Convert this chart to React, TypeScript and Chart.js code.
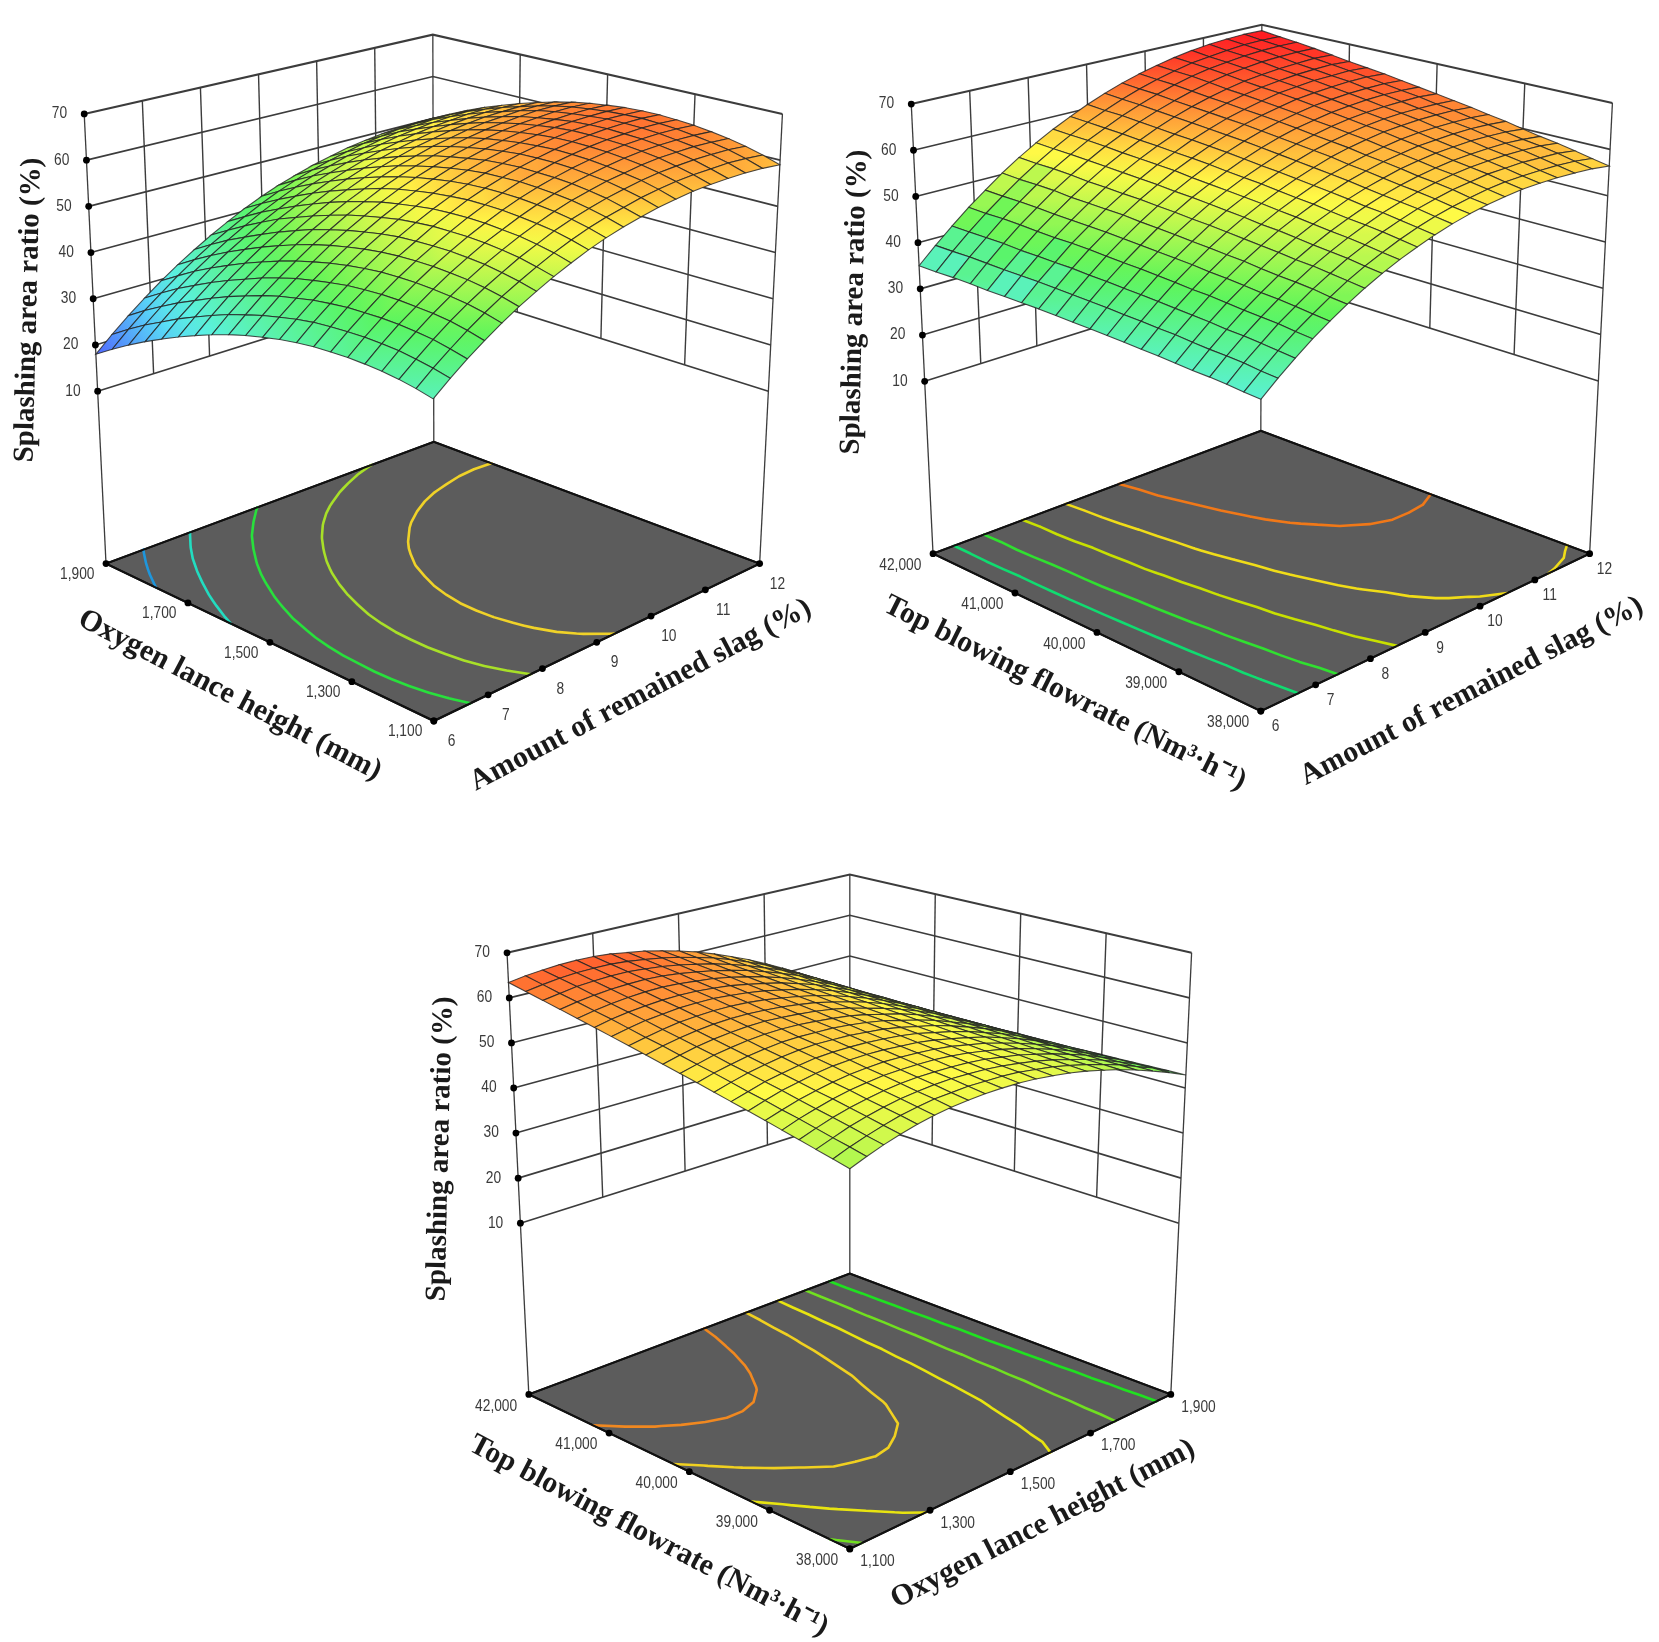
import { useEffect, useRef } from "react";
import { Chart, registerables } from "chart.js";
Chart.register(...registerables);

// ---------- data ----------
const zTicks = [10, 20, 30, 40, 50, 60, 70];
const slagTicks = ["6", "7", "8", "9", "10", "11", "12"];
const lanceTicks = ["1,100", "1,300", "1,500", "1,700", "1,900"];
const flowTicks = ["38,000", "39,000", "40,000", "41,000", "42,000"];

// rows: second factor low -> high, columns: first factor low -> high
const slagLanceRows = [
  [35,37.8,40.4,42.8,45.1,47.2,49.1,50.9,52.5,54,55.3,56.4,57.3,58.1,58.7,59.2,59.5,59.6,59.6,59.4,59],
  [35.8,38.6,41.2,43.7,46,48.1,50,51.8,53.5,55,56.3,57.4,58.3,59.2,59.8,60.3,60.6,60.7,60.8,60.6,60.2],
  [36.4,39.2,41.9,44.4,46.7,48.8,50.7,52.6,54.2,55.8,57.1,58.2,59.2,60,60.7,61.2,61.5,61.7,61.7,61.6,61.2],
  [36.8,39.7,42.3,44.8,47.1,49.3,51.3,53.1,54.8,56.3,57.7,58.9,59.8,60.7,61.3,61.9,62.3,62.4,62.5,62.3,62],
  [37,39.9,42.6,45,47.4,49.6,51.6,53.5,55.1,56.7,58.1,59.3,60.3,61.1,61.8,62.4,62.8,63,63,62.9,62.6],
  [37.1,40,42.7,45.2,47.6,49.8,51.8,53.7,55.4,57,58.4,59.6,60.6,61.5,62.2,62.8,63.2,63.4,63.5,63.4,63.1],
  [37,39.9,42.6,45.2,47.6,49.8,51.8,53.7,55.5,57.1,58.5,59.8,60.7,61.7,62.4,63,63.4,63.6,63.8,63.7,63.4],
  [36.8,39.7,42.5,45,47.5,49.7,51.7,53.7,55.4,57.1,58.5,59.7,60.8,61.7,62.5,63.1,63.5,63.8,63.9,63.9,63.6],
  [36.4,39.4,42.1,44.7,47.1,49.4,51.5,53.4,55.2,56.8,58.3,59.6,60.6,61.6,62.3,63,63.5,63.7,63.9,63.8,63.6],
  [35.8,38.8,41.6,44.1,46.6,48.9,51,53,54.7,56.4,57.9,59.2,60.3,61.2,62,62.7,63.2,63.5,63.6,63.6,63.4],
  [35,38,40.8,43.4,45.9,48.2,50.3,52.3,54.1,55.8,57.3,58.6,59.7,60.7,61.5,62.2,62.7,63,63.2,63.2,63],
  [34.1,37.1,40,42.6,45,47.4,49.5,51.5,53.4,55.1,56.6,57.9,59,60,60.9,61.6,62.1,62.4,62.7,62.7,62.5],
  [33,36,38.9,41.5,44,46.4,48.5,50.6,52.4,54.2,55.7,57,58.2,59.2,60.1,60.8,61.3,61.7,62,62,61.8],
  [31.7,34.8,37.6,40.3,42.8,45.2,47.4,49.4,51.3,53,54.6,56,57.1,58.2,59,59.8,60.4,60.7,61,61,60.9],
  [30.2,33.3,36.2,38.8,41.4,43.8,46,48.1,50,51.7,53.3,54.7,55.9,57,57.8,58.6,59.2,59.6,59.8,59.9,59.8],
  [28.6,31.7,34.6,37.3,39.9,42.3,44.5,46.6,48.5,50.3,51.9,53.3,54.5,55.6,56.5,57.3,57.9,58.3,58.6,58.7,58.6],
  [26.8,30,32.8,35.6,38.2,40.6,42.8,45.1,46.9,48.7,50.3,51.7,53,54.1,55,55.8,56.4,56.8,57.2,57.3,57.2],
  [24.9,28,31,33.7,36.4,38.8,41,43.2,45.1,46.9,48.6,50,51.3,52.4,53.4,54.2,54.8,55.3,55.6,55.8,55.7],
  [22.8,26,28.9,31.7,34.4,36.8,39.1,41.2,43.2,45,46.7,48.2,49.4,50.6,51.5,52.4,53.1,53.5,53.9,54,54],
  [20.5,23.7,26.7,29.4,32.1,34.6,36.9,39,41,42.9,44.6,46.1,47.4,48.5,49.5,50.4,51,51.6,51.9,52.1,52.1],
  [18,21.2,24.2,27,29.7,32.2,34.5,36.7,38.7,40.6,42.3,43.8,45.1,46.3,47.3,48.2,48.9,49.4,49.8,50,50],
];
const slagFlowRows = [
  [33,35.9,38.6,41.2,43.5,45.7,47.7,49.5,51.1,52.5,53.8,54.9,55.8,56.5,57,57.4,57.5,57.5,57.3,57,56.4],
  [33.2,36.1,38.9,41.5,43.8,46,48.1,49.9,51.5,53,54.3,55.4,56.3,57,57.6,58,58.1,58.1,58,57.7,57.1],
  [33.5,36.5,39.2,41.9,44.2,46.5,48.5,50.4,52,53.5,54.8,56,56.9,57.7,58.2,58.7,58.8,58.9,58.7,58.5,57.9],
  [33.7,36.7,39.5,42.1,44.5,46.8,48.9,50.7,52.4,53.9,55.3,56.4,57.4,58.2,58.8,59.2,59.4,59.5,59.4,59.2,58.6],
  [33.8,36.8,39.6,42.3,44.7,47,49.1,51,52.7,54.2,55.6,56.8,57.8,58.6,59.2,59.7,59.9,60,60,59.7,59.2],
  [34,37,39.9,42.6,45,47.3,49.5,51.4,53.1,54.6,56.1,57.3,58.3,59.2,59.8,60.3,60.5,60.7,60.6,60.4,59.9],
  [34.2,37.3,40.1,42.9,45.3,47.7,49.8,51.8,53.5,55.1,56.5,57.8,58.8,59.7,60.3,60.9,61.1,61.3,61.3,61.1,60.7],
  [34.3,37.4,40.3,43,45.5,47.9,50.1,52,53.8,55.4,56.9,58.2,59.2,60.1,60.8,61.4,61.7,61.8,61.8,61.7,61.3],
  [34.5,37.6,40.5,43.3,45.8,48.2,50.4,52.4,54.2,55.8,57.3,58.6,59.8,60.7,61.4,62,62.3,62.5,62.5,62.4,62],
  [34.6,37.7,40.7,43.5,46,48.4,50.7,52.7,54.5,56.2,57.7,59,60.2,61.1,61.8,62.4,62.8,63,63,62.9,62.6],
  [34.7,37.9,40.8,43.7,46.2,48.7,50.9,53,54.8,56.5,58,59.4,60.6,61.5,62.3,62.9,63.3,63.5,63.6,63.6,63.2],
  [34.8,38,41,43.8,46.4,48.9,51.2,53.3,55.1,56.8,58.4,59.8,61,62,62.7,63.4,63.8,64.1,64.2,64.1,63.8],
  [34.9,38.1,41.1,44,46.6,49.1,51.4,53.5,55.4,57.2,58.8,60.2,61.4,62.4,63.2,63.9,64.3,64.6,64.7,64.7,64.4],
  [35,38.2,41.3,44.2,46.8,49.4,51.7,53.8,55.8,57.5,59.1,60.5,61.8,62.8,63.6,64.4,64.8,65.1,65.3,65.3,65],
  [35,38.3,41.3,44.3,46.9,49.5,51.8,54,56,57.7,59.4,60.8,62.1,63.1,64,64.8,65.2,65.6,65.7,65.8,65.5],
  [35,38.3,41.4,44.3,47,49.6,52,54.2,56.2,58,59.6,61.1,62.4,63.5,64.4,65.1,65.6,66,66.2,66.3,66],
  [35,38.3,41.4,44.4,47.1,49.7,52.1,54.4,56.4,58.2,59.9,61.4,62.7,63.8,64.7,65.5,66,66.4,66.6,66.8,66.6],
  [35.1,38.4,41.6,44.6,47.3,50,52.4,54.6,56.7,58.5,60.2,61.7,63,64.2,65.2,66,66.5,67,67.2,67.3,67.2],
  [35.1,38.5,41.6,44.7,47.4,50.1,52.6,54.8,56.9,58.7,60.5,62,63.4,64.6,65.6,66.4,66.9,67.4,67.7,67.8,67.7],
  [35,38.4,41.6,44.6,47.4,50.1,52.6,54.9,57,58.9,60.6,62.2,63.6,64.8,65.8,66.7,67.2,67.7,68.1,68.2,68.1],
  [35,38.4,41.6,44.7,47.5,50.3,52.8,55.1,57.2,59.1,60.9,62.5,63.9,65.1,66.1,67,67.7,68.2,68.5,68.7,68.6],
];
const lanceFlowRows = [
  [47.4,48.7,49.9,50.9,51.8,52.5,53,53.3,53.5,53.5,53.4,53.1,52.6,52,51.2,50.2,49.1,47.8,46.3,44.7,42.9],
  [48.2,49.5,50.6,51.6,52.5,53.1,53.6,53.8,54,53.9,53.8,53.5,52.9,52.3,51.4,50.4,49.2,47.9,46.3,44.7,42.8],
  [49,50.2,51.4,52.3,53.1,53.7,54.1,54.4,54.5,54.4,54.2,53.8,53.2,52.5,51.6,50.5,49.3,47.9,46.3,44.6,42.7],
  [49.8,51,52.1,53,53.7,54.3,54.7,54.9,54.9,54.8,54.6,54.2,53.5,52.8,51.8,50.7,49.4,48,46.3,44.6,42.6],
  [50.6,51.8,52.8,53.7,54.4,54.9,55.3,55.4,55.4,55.3,55,54.5,53.8,53,52,50.8,49.5,48,46.3,44.5,42.5],
  [51.4,52.5,53.5,54.3,55,55.5,55.8,56,55.9,55.7,55.4,54.9,54.1,53.3,52.2,51,49.6,48.1,46.3,44.5,42.4],
  [52.2,53.3,54.3,55,55.7,56.2,56.4,56.5,56.4,56.1,55.8,55.2,54.4,53.5,52.5,51.2,49.8,48.2,46.3,44.4,42.3],
  [53,54,55,55.7,56.3,56.8,57,57,56.9,56.6,56.2,55.6,54.7,53.8,52.7,51.3,49.9,48.2,46.3,44.4,42.2],
  [53.8,54.8,55.7,56.4,57,57.4,57.6,57.5,57.4,57,56.6,55.9,55,54.1,52.9,51.5,50,48.3,46.4,44.3,42.1],
  [54.6,55.6,56.4,57.1,57.6,58,58.1,58,57.9,57.5,57,56.3,55.3,54.3,53.1,51.6,50.1,48.3,46.4,44.3,42],
  [55.4,56.3,57.2,57.8,58.3,58.6,58.7,58.6,58.3,57.9,57.4,56.6,55.6,54.6,53.3,51.8,50.2,48.4,46.4,44.2,41.9],
  [56.2,57.1,57.9,58.5,58.9,59.2,59.3,59.1,58.8,58.4,57.8,57,55.9,54.8,53.5,52,50.3,48.4,46.4,44.2,41.8],
  [57,57.9,58.6,59.2,59.6,59.8,59.8,59.6,59.3,58.8,58.2,57.3,56.3,55.1,53.7,52.1,50.4,48.5,46.4,44.2,41.7],
  [57.8,58.6,59.3,59.9,60.2,60.4,60.4,60.2,59.8,59.2,58.5,57.7,56.6,55.3,53.9,52.3,50.5,48.6,46.4,44.1,41.6],
  [58.6,59.4,60.1,60.5,60.9,61,61,60.7,60.3,59.7,58.9,58,56.9,55.6,54.1,52.4,50.6,48.6,46.4,44.1,41.5],
  [59.4,60.2,60.8,61.2,61.5,61.6,61.5,61.2,60.8,60.1,59.3,58.4,57.2,55.9,54.3,52.6,50.7,48.7,46.4,44,41.4],
  [60.2,60.9,61.5,61.9,62.2,62.3,62.1,61.7,61.3,60.6,59.7,58.7,57.5,56.1,54.5,52.8,50.9,48.7,46.4,44,41.3],
  [61,61.7,62.2,62.6,62.8,62.9,62.7,62.3,61.7,61,60.1,59.1,57.8,56.4,54.8,52.9,51,48.8,46.4,43.9,41.2],
  [61.8,62.4,63,63.3,63.5,63.5,63.2,62.8,62.2,61.4,60.5,59.4,58.1,56.6,55,53.1,51.1,48.9,46.4,43.9,41.1],
  [62.6,63.2,63.7,64,64.1,64.1,63.8,63.3,62.7,61.9,60.9,59.8,58.4,56.9,55.2,53.2,51.2,48.9,46.4,43.8,41],
  [63.4,64,64.4,64.7,64.8,64.7,64.4,63.8,63.2,62.3,61.3,60.1,58.7,57.1,55.4,53.4,51.3,49,46.4,43.8,40.9],
];

const slagLanceLevels = [25, 32.5, 41, 49, 56.5];
const slagFlowLevels = [39.3, 45, 51.5, 57.4, 63];
const lanceFlowLevels = [44.5, 48.4, 52.3, 56.2, 60.2];
const slagLanceLevelColors = ["#1e96dc", "#22dcc0", "#28e03c", "#a8e028", "#f0d228"];
const slagFlowLevelColors = ["#10dc70", "#30e030", "#c8e000", "#f0dc18", "#f07818"];
const lanceFlowLevelColors = ["#20e020", "#70e020", "#e8e410", "#f0d020", "#f08820"];

// colour ramp of the surface
const rampValues = [18, 30, 43, 55, 62, 68.6];
const rampColors = [[80, 100, 255], [90, 240, 245], [90, 245, 90], [255, 250, 70], [255, 150, 55], [255, 30, 35]];

// ---------- layout ----------
type XY = [number, number];
const panels = [
  {
    rect: [0, 0, 830, 830], rows: slagLanceRows, levels: slagLanceLevels, levelColors: slagLanceLevelColors,
    uTicks: slagTicks, vTicks: lanceTicks, zFloor: -27.3,
    floor: [[434, 724], [763, 565], [434, 442], [103, 565]] as XY[],
    ceil: [[433, 216], [786, 111], [433, 31], [81, 111]] as XY[],
    uOff: [18, 21] as XY, vOff: [-29, 11] as XY,
    uTitle: { text: "Amount of remained slag (%)", at: [643, 698] as XY, deg: -27.8 },
    vTitle: { text: "Oxygen lance height (mm)", at: [228, 698] as XY, deg: 27.5 },
    zTitle: { text: "Splashing area ratio (%)", at: [25, 309] as XY, deg: -88.6 },
  },
  {
    rect: [830, 0, 829, 830], rows: slagFlowRows, levels: slagFlowLevels, levelColors: slagFlowLevelColors,
    uTicks: slagTicks, vTicks: flowTicks, zFloor: -27.3,
    floor: [[1261, 714], [1593, 555], [1261, 431], [930, 555]] as XY[],
    ceil: [[1261, 206], [1616, 100], [1262, 21], [908, 101]] as XY[],
    uOff: [15, 16] as XY, vOff: [-33, 12] as XY,
    uTitle: { text: "Amount of remained slag (%)", at: [1474, 694] as XY, deg: -27.2 },
    vTitle: { text: "Top blowing flowrate (Nm³·h⁻¹)", at: [1063, 696] as XY, deg: 26.6 },
    zTitle: { text: "Splashing area ratio (%)", at: [851, 301] as XY, deg: -88.6 },
  },
  {
    rect: [400, 830, 860, 812], rows: lanceFlowRows, levels: lanceFlowLevels, levelColors: lanceFlowLevelColors,
    uTicks: lanceTicks, vTicks: flowTicks, zFloor: -28,
    floor: [[850, 1552], [1174, 1396], [850, 1274], [526, 1396]] as XY[],
    ceil: [[850, 1053], [1195, 950], [850, 871], [504, 950]] as XY[],
    uOff: [28, 13] as XY, vOff: [-33, 12] as XY,
    uTitle: { text: "Oxygen lance height (mm)", at: [1045, 1527] as XY, deg: -27.2 },
    vTitle: { text: "Top blowing flowrate (Nm³·h⁻¹)", at: [647, 1539] as XY, deg: 27.7 },
    zTitle: { text: "Splashing area ratio (%)", at: [437, 1148] as XY, deg: -88.6 },
  },
];
type Panel = (typeof panels)[number];

const SLANT_FONT = "bold 30px 'Liberation Serif'";
const UPRIGHT_FONT = "bold 29px 'Liberation Serif'";
const TICK_FONT = "16px 'Liberation Sans'";
const TICK_SQUEEZE = 0.86;

function surfaceColor(z: number) {
  let k = 0;
  while (k < rampValues.length - 2 && z > rampValues[k + 1]) k++;
  const t = Math.min(1, Math.max(0, (z - rampValues[k]) / (rampValues[k + 1] - rampValues[k])));
  const c = rampColors[k].map((v, n) => Math.round(v + (rampColors[k + 1][n] - v) * t));
  return `rgb(${c[0]},${c[1]},${c[2]})`;
}

function bilinear(q: XY[], u: number, v: number): XY {
  const f = (n: 0 | 1) =>
    q[0][n] * (1 - u) * (1 - v) + q[1][n] * u * (1 - v) + q[2][n] * u * v + q[3][n] * (1 - u) * v;
  return [f(0), f(1)];
}

function project(p: Panel, u: number, v: number, z: number) {
  const a = bilinear(p.floor, u, v);
  const b = bilinear(p.ceil, u, v);
  const t = (z - p.zFloor) / (70 - p.zFloor);
  return { x: a[0] + (b[0] - a[0]) * t, y: a[1] + (b[1] - a[1]) * t };
}

// a dash list with no gap keeps Chart.js on its exact path routine
const SOLID = [1000, 0];

function stroke(data: any[], color: string, width: number, extra: any = {}) {
  return {
    type: "scatter", showLine: true, data, borderColor: color, borderWidth: width, borderDash: SOLID,
    pointRadius: 0, fill: false, tension: 0, clip: false, ...extra,
  };
}

function contourPoints(p: Panel, level: number) {
  const n = p.rows.length - 1;
  const pts: any[] = [];
  for (let j = 0; j < n; j++) {
    for (let i = 0; i < n; i++) {
      const c = [
        [i, j, p.rows[j][i]],
        [i + 1, j, p.rows[j][i + 1]],
        [i + 1, j + 1, p.rows[j + 1][i + 1]],
        [i, j + 1, p.rows[j + 1][i]],
      ];
      const hits: any[] = [];
      for (let e = 0; e < 4; e++) {
        const A = c[e];
        const B = c[(e + 1) % 4];
        if (A[2] >= level !== B[2] >= level) {
          const t = (level - A[2]) / (B[2] - A[2]);
          hits.push(project(p, (A[0] + (B[0] - A[0]) * t) / n, (A[1] + (B[1] - A[1]) * t) / n, p.zFloor));
        }
      }
      for (let h = 0; h + 1 < hits.length; h += 2) pts.push(hits[h], hits[h + 1], { x: NaN, y: NaN });
    }
  }
  return pts;
}

function buildDatasets(p: Panel, ctx: CanvasRenderingContext2D) {
  const out: any[] = []; // painted in this order
  const WALL = "#3c3c3c";
  const nu = p.uTicks.length - 1;
  const nv = p.vTicks.length - 1;
  // walls: left wall v=1, right wall u=1
  zTicks.forEach((z) => {
    const w = z === 70 ? 2.1 : 1.6;
    out.push(stroke([project(p, 0, 1, z), project(p, 1, 1, z), project(p, 1, 0, z)], WALL, w));
  });
  for (let k = 1; k < nu; k++) out.push(stroke([project(p, k / nu, 1, 10), project(p, k / nu, 1, 70)], WALL, 1.4));
  for (let k = 1; k < nv; k++) out.push(stroke([project(p, 1, k / nv, 10), project(p, 1, k / nv, 70)], WALL, 1.4));
  // the three corner posts run down to the floor
  out.push(stroke([project(p, 0, 1, p.zFloor), project(p, 0, 1, 70)], WALL, 1.3));
  out.push(stroke([project(p, 1, 1, p.zFloor), project(p, 1, 1, 70)], WALL, 1.3));
  out.push(stroke([project(p, 1, 0, p.zFloor), project(p, 1, 0, 70)], WALL, 1.3));
  // floor
  const fl = [[0, 0], [1, 0], [1, 1], [0, 1], [0, 0]].map(([u, v]) => project(p, u, v, p.zFloor));
  out.push(stroke(fl, "#111", 2, { fill: "shape", backgroundColor: "#5c5c5c" }));
  p.levels.forEach((lv, n) =>
    out.push(stroke(contourPoints(p, lv), p.levelColors[n], 2.6, { borderCapStyle: "round" }))
  );
  out.push(stroke(fl, "#111", 2));
  // surface, far cells first
  const n = p.rows.length - 1;
  for (let j = n - 1; j >= 0; j--) {
    for (let i = n - 1; i >= 0; i--) {
      const z = [p.rows[j][i], p.rows[j][i + 1], p.rows[j + 1][i + 1], p.rows[j + 1][i]];
      const cell = [
        project(p, i / n, j / n, z[0]),
        project(p, (i + 1) / n, j / n, z[1]),
        project(p, (i + 1) / n, (j + 1) / n, z[2]),
        project(p, i / n, (j + 1) / n, z[3]),
      ];
      const lo = z.indexOf(Math.min(...z));
      const hi = z.indexOf(Math.max(...z));
      const grad = ctx.createLinearGradient(cell[lo].x, cell[lo].y, cell[hi].x, cell[hi].y);
      grad.addColorStop(0, surfaceColor(z[lo]));
      grad.addColorStop(1, surfaceColor(z[hi]));
      cell.push(cell[0]);
      out.push(stroke(cell, "rgba(35,35,35,0.82)", 1.1, { fill: "shape", backgroundColor: grad }));
    }
  }
  // tick dots
  const dots = [
    ...zTicks.map((z) => project(p, 0, 1, z)),
    ...p.uTicks.map((_, k) => project(p, k / nu, 0, p.zFloor)),
    ...p.vTicks.map((_, k) => project(p, 0, k / nv, p.zFloor)),
  ];
  out.push({
    type: "scatter", data: dots, showLine: false, pointRadius: 3.4, clip: false,
    pointBackgroundColor: "#000", pointBorderWidth: 0,
  });
  return out.reverse(); // Chart.js paints the last dataset first
}

function textPlugin(p: Panel) {
  return {
    id: "panelText",
    afterDraw(chart: any) {
      const { ctx, scales } = chart;
      const put = (text: string, x: number, y: number, font: string, color: string, deg = 0, sx = 1) => {
        ctx.save();
        ctx.translate(scales.x.getPixelForValue(x), scales.y.getPixelForValue(y));
        ctx.rotate((deg * Math.PI) / 180);
        ctx.scale(sx, 1);
        ctx.font = font;
        ctx.fillStyle = color;
        ctx.textAlign = "center";
        ctx.textBaseline = "middle";
        ctx.fillText(text, 0, 0);
        ctx.restore();
      };
      const nu = p.uTicks.length - 1;
      const nv = p.vTicks.length - 1;
      zTicks.forEach((z) => {
        const q = project(p, 0, 1, z);
        put(String(z), q.x - 25, q.y, TICK_FONT, "#3a3a3a", 0, TICK_SQUEEZE);
      });
      p.uTicks.forEach((t, k) => {
        const q = project(p, k / nu, 0, p.zFloor);
        put(t, q.x + p.uOff[0], q.y + p.uOff[1], TICK_FONT, "#3a3a3a", 0, TICK_SQUEEZE);
      });
      p.vTicks.forEach((t, k) => {
        const q = project(p, 0, k / nv, p.zFloor);
        put(t, q.x + p.vOff[0], q.y + p.vOff[1], TICK_FONT, "#3a3a3a", 0, TICK_SQUEEZE);
      });
      put(p.uTitle.text, p.uTitle.at[0], p.uTitle.at[1], SLANT_FONT, "#1a1a1a", p.uTitle.deg);
      put(p.vTitle.text, p.vTitle.at[0], p.vTitle.at[1], SLANT_FONT, "#1a1a1a", p.vTitle.deg);
      put(p.zTitle.text, p.zTitle.at[0], p.zTitle.at[1], UPRIGHT_FONT, "#1a1a1a", p.zTitle.deg);
    },
  };
}

function PanelChart({ panel }: { panel: Panel }) {
  const ref = useRef<HTMLCanvasElement>(null);
  const [left, top, w, h] = panel.rect;
  useEffect(() => {
    const canvas = ref.current as HTMLCanvasElement;
    const chart = new Chart(canvas, {
      type: "scatter",
      data: { datasets: buildDatasets(panel, canvas.getContext("2d") as CanvasRenderingContext2D) as any },
      options: {
        responsive: false,
        animation: false,
        events: [],
        layout: { padding: 0 },
        plugins: { legend: { display: false }, tooltip: { enabled: false } },
        scales: {
          x: { type: "linear", display: false, min: left, max: left + w },
          y: { type: "linear", display: false, reverse: true, min: top, max: top + h },
        },
      },
      plugins: [textPlugin(panel)],
    } as any);
    return () => chart.destroy();
  }, []);
  return (
    <canvas
      ref={ref}
      width={w}
      height={h}
      style={{ position: "absolute", left, top, width: w, height: h, filter: "blur(0.4px)" }}
    />
  );
}

export default function App() {
  return (
    <div style={{ position: "absolute", left: 0, top: 0, width: 1659, height: 1642, background: "#fff", overflow: "hidden" }}>
      {panels.map((p, n) => (
        <PanelChart key={n} panel={p} />
      ))}
    </div>
  );
}
